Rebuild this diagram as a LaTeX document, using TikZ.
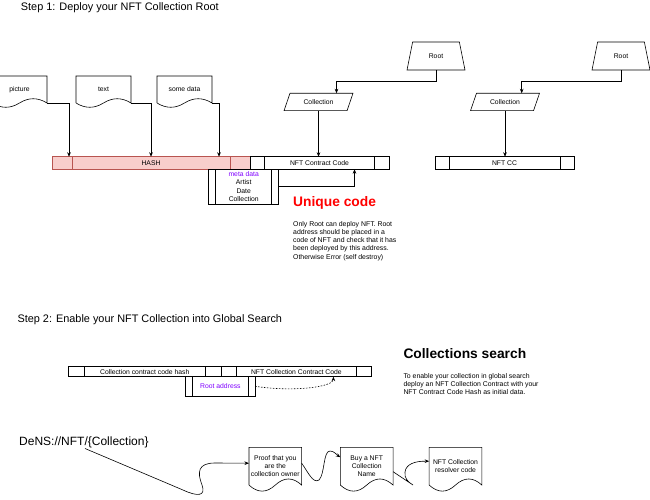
\documentclass[tikz,border=0pt]{standalone}
\usepackage{fontspec}
\setmainfont{Liberation Sans}
\usetikzlibrary{arrows.meta,positioning,calc,shapes.geometric}
\definecolor{HashFill}{HTML}{F8CECC}
\definecolor{HashLine}{HTML}{B85450}
\definecolor{MetaPurple}{HTML}{7F00FF}
\definecolor{AlertRed}{HTML}{FF0000}

\begin{document}
\begin{tikzpicture}[x=1pt,y=-1pt,
  lbl/.style={font=\fontsize{6.8}{8.2}\selectfont,align=center,inner sep=0pt,outer sep=0pt},
  pcol/.style={},
  procbox/.style={draw,lbl,line width=0.6pt,path picture={
    \draw[line width=0.6pt,pcol] ([xshift=#1]path picture bounding box.north west) -- ([xshift=#1]path picture bounding box.south west)
      ([xshift=-#1]path picture bounding box.north east) -- ([xshift=-#1]path picture bounding box.south east);}},
  doc/.style={lbl,minimum width=55pt,minimum height=27pt},
  bigdoc/.style={lbl,minimum width=52.7pt,minimum height=37.7pt},
  rootbox/.style={trapezium,draw,lbl,line width=0.6pt,trapezium left angle=70,trapezium right angle=70,
    trapezium stretches=true,minimum width=58pt,minimum height=28pt},
  collbox/.style={trapezium,draw,lbl,line width=0.6pt,trapezium left angle=58,trapezium right angle=122,
    trapezium stretches=true,minimum width=69pt,minimum height=17.4pt},
  conn/.style={line width=0.6pt,-{Stealth[length=4.5pt,width=3.6pt]}},
  title/.style={font=\fontsize{10.9}{13}\selectfont,inner sep=0pt,anchor=west},
  heading/.style={font=\fontsize{13.8}{16}\selectfont\bfseries,inner sep=0pt,anchor=west},
  note/.style={font=\fontsize{6.9}{8.2}\selectfont,align=left,inner sep=0pt,anchor=north west}]
  \useasboundingbox (0,0) rectangle (650,500);

  % step 1
  \node[title] (step1) at (20.7,7.3) {Step 1: Deploy your NFT Collection Root};
  \node[doc] (pic) at (19.5,89.5) {picture};
  \node[doc] (txt) at (103.5,89.5) {text};
  \node[doc] (dat) at (184.5,89.5) {some data};
  \node[procbox=20pt,fill=HashFill,draw=HashLine,pcol/.style={HashLine},minimum width=198pt,minimum height=12.5pt] (hash) at (151,163) {HASH};
  \node[procbox=14.5pt,minimum width=139pt,minimum height=12.5pt,right=0pt of hash] (nftcode) {NFT Contract Code};
  \node[procbox=7pt,minimum width=70pt,minimum height=35pt] (meta) at (243.7,186.5)
    {\textcolor{MetaPurple}{meta data}\\Artist\\Date\\Collection};
  \node[rootbox] (rootA) at (436,56) {Root};
  \node[collbox] (collA) at (318.5,102) {Collection};
  \node[rootbox] (rootB) at (621,56) {Root};
  \node[collbox] (collB) at (505,102) {Collection};
  \node[procbox=14pt,minimum width=139pt,minimum height=12.5pt] (nftcc) at (504.5,163) {NFT CC};
  \node[heading,text=AlertRed] (unique) at (293,203.3) {Unique code};
  \node[note] (uniquetxt) at (293,221) {Only Root can deploy NFT. Root\\address should be placed in a\\code of NFT and check that it has\\been deployed by this address.\\Otherwise Error (self destroy)};

  \draw[conn] (pic.south east) -| ([xshift=17pt]hash.north west);
  \draw[conn] (txt.south east) -| (hash.north);
  \draw[conn] (dat.south east) -| ([xshift=-31pt]hash.north east);
  \draw[conn] (rootA.south) -- ++(0,11.7) -| ([xshift=18pt]collA.north);
  \draw[conn] (collA.south) -- (collA.south |- nftcode.north);
  \draw[conn] (rootB.south) -- ++(0,11.7) -| ([xshift=16.7pt]collB.north);
  \draw[conn] (collB.south) -- (collB.south |- nftcc.north);
  \draw[conn] (meta.east) -| ([xshift=35pt]nftcode.south);

  % step 2
  \node[title] (step2) at (17.3,320) {Step 2: Enable your NFT Collection into Global Search};
  \node[procbox=16pt,minimum width=152.7pt,minimum height=10pt] (cchash) at (144.7,371.7) {Collection contract code hash};
  \node[procbox=15pt,minimum width=150.7pt,minimum height=10pt,right=0pt of cchash] (nftccc) {NFT Collection Contract Code};
  \node[procbox=6.5pt,minimum width=69.3pt,minimum height=19.3pt,text=MetaPurple] (rootaddr) at (220.4,386.3) {Root address};
  \node[heading] (search) at (403.3,354) {Collections search};
  \node[note] (searchtxt) at (403.3,373) {To enable your collection in global search\\deploy an NFT Collection Contract with your\\NFT Contract Code Hash as initial data.};
  \draw[conn,dash pattern=on 1.5pt off 1.5pt] (rootaddr.east) .. controls +(40,6) and +(0,10) .. ([xshift=37pt]nftccc.south);

  % DeNS
  \node[title,font=\fontsize{12}{14}\selectfont] (dens) at (19,442.7) {DeNS://NFT/\{Collection\}};
  \node[bigdoc] (proof) at (275.3,466.2) {Proof that you\\are the\\collection owner};
  \node[bigdoc] (buy) at (366.7,466.2) {Buy a NFT\\Collection\\Name};
  \node[bigdoc] (resolver) at (455.5,466.2) {NFT Collection\\resolver code};

  \foreach \d/\u/\v in {pic/9.2/5.7,txt/9.2/5.7,dat/9.2/5.7,proof/8.8/8.1,buy/8.8/8.1,resolver/8.8/8.1}
    \draw[line width=0.6pt] (\d.south west) -- (\d.north west) -- (\d.north east) -- (\d.south east)
      .. controls +(-\u,-\v) and +(\u,-\v) .. (\d.south)
      .. controls +(-\u,\v) and +(\u,\v) .. (\d.south west);

  \draw[conn] ([xshift=66pt]dens.south west) -- (183,490) .. controls (198,497) and (206,496) .. (202,485)
    .. controls (197,472) and (198,463) .. (215,463) -- ([yshift=3pt]proof.west);
  \draw[conn] ([yshift=3pt]proof.east) .. controls (308,472) and (313,484) .. (319,480)
    .. controls (325,474) and (323,451) .. (330,451) .. controls (334,451) and (337,455) .. ([yshift=9pt]buy.west);
  \draw[conn] ([yshift=-5.5pt]buy.east) -- (413,485) .. controls (408,482) and (404,478) .. (405,472)
    .. controls (406,464) and (415,461) .. ([yshift=5pt]resolver.west);
\end{tikzpicture}
\end{document}
